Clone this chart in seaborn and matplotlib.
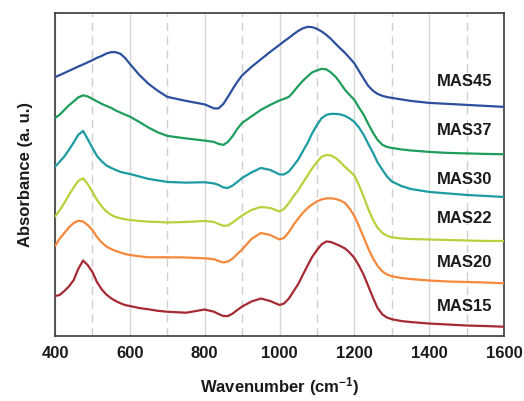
import numpy as np
import pandas as pd
import seaborn as sns
import matplotlib
matplotlib.use("Agg")
import matplotlib.pyplot as plt
from matplotlib.ticker import MultipleLocator, NullLocator

# FTIR absorbance spectra, vertically stacked (arbitrary units)
wavenumber = [400, 412, 425, 437, 450, 462, 475, 487, 500, 512, 525, 537, 550, 562,
              575, 587, 600, 625, 650, 675, 700, 750, 800, 825, 837, 850, 862, 875,
              887, 900, 925, 950, 975, 1000, 1012, 1025, 1037, 1050, 1062, 1075, 1087,
              1100, 1112, 1125, 1137, 1150, 1162, 1175, 1187, 1200, 1212, 1225, 1237,
              1250, 1262, 1275, 1287, 1300, 1325, 1350, 1400, 1450, 1500, 1550, 1600]

mas45 = [258.7, 260.7, 262.9, 265, 267.2, 269.3, 271.4, 273.5, 275.7, 278, 280, 282.3,
         283.7, 283.7, 282, 278, 272, 261, 252, 245, 239, 235, 231.5, 227.5, 227.5, 232,
         239, 247, 254, 260.5, 269, 276.5, 284, 291, 294.5, 298, 301.5, 305, 307.5, 309,
         308.7, 307, 304.5, 301, 297, 292, 287.5, 283, 278, 272.5, 265, 257, 250, 245,
         242, 240, 238.8, 238, 236.5, 235, 233, 232, 231, 230, 229]
mas37 = [218, 221, 226, 230.5, 234.5, 238.5, 240.5, 239.5, 237, 234.5, 232, 230, 228,
         225.5, 223.3, 221.3, 219.3, 214, 208.3, 203.5, 200, 197.5, 195.3, 194, 192, 191,
         194, 200, 207, 213, 219.5, 226, 231, 235.5, 237, 239, 244, 250, 255, 259.5,
         263.5, 265.5, 267, 266.5, 263.5, 259, 253, 246, 241, 236, 228.5, 221, 212, 203,
         196, 191, 189, 188, 186.5, 185.5, 184, 183, 182.5, 182, 181.7]
mas30 = [169.3, 174, 179.5, 186, 193.5, 201, 205, 197, 188, 180, 174.5, 170.5, 168, 166,
         164, 163, 162, 159.5, 157, 155.5, 154, 153.3, 153.7, 152.5, 151, 148.5, 148,
         150.5, 154, 158, 163.5, 168, 166, 161.5, 161.5, 164.5, 170, 176.5, 184.5, 193,
         202.5, 211, 217.5, 221, 222, 222, 221.5, 220, 217.5, 214, 208.5, 201, 192, 183,
         173.5, 166, 159.5, 154.5, 150, 147, 144, 142.5, 141, 140, 139]
mas22 = [119.3, 125.5, 133, 141, 148.5, 155, 157.7, 152, 144, 136, 129.5, 124.5, 121,
         119, 117.7, 116.7, 116, 115, 114.3, 114, 113.5, 114, 115, 114, 112, 110.2, 110.5,
         113.5, 117, 120.5, 126, 129, 128, 124.5, 127, 133, 139.5, 146, 153, 160.5,
         167.5, 174, 179, 181, 180.5, 178, 174, 169, 165, 160.5, 151, 139, 127, 116, 108,
         103, 100.2, 98.7, 97.5, 97, 96.5, 96, 95.5, 95, 95]
mas20 = [90, 97, 103, 108.5, 113, 115.2, 114.5, 111, 106, 99, 93.5, 89.5, 87, 85, 83.5,
         82, 81, 79.7, 78.7, 78.7, 78.7, 78.5, 77.7, 76.8, 75, 73.5, 74.5, 77.5, 82, 86.5,
         97, 103, 101, 96.5, 98, 104, 111, 117.5, 123, 128, 131.5, 134.5, 136.5, 137.5,
         137.7, 137, 135.5, 133, 127.5, 120, 110, 98.5, 87.5, 77.5, 70, 64.5, 61.5, 59.7,
         58, 57, 55.5, 54.5, 54, 53.5, 52.7]
mas15 = [40, 41, 45, 49.5, 56, 67, 75.5, 71, 64, 54, 46.5, 41.5, 37.7, 35, 32.7, 31, 30,
         28, 26.7, 25.2, 24.3, 23.3, 26.5, 24.3, 22, 20, 20, 22.5, 26, 29.5, 34.5, 37.5,
         35, 31, 32.5, 37.5, 44.5, 52, 61, 70.5, 79, 86, 91.5, 94.5, 94, 92, 90, 87.5,
         83.5, 78, 70.5, 61, 50, 38, 28, 21.5, 18.5, 16.8, 15, 14, 12.5, 11.5, 10.5, 10,
         9.3]

samples = ["MAS45", "MAS37", "MAS30", "MAS22", "MAS20", "MAS15"]
series = [mas45, mas37, mas30, mas22, mas20, mas15]
colors = ["#2c4f9e", "#1f9d5c", "#1c9ba2", "#b9d13c", "#f6883c", "#a52a34"]
label_y = [254, 205, 156, 117, 73, 30]

df = pd.concat(
    [pd.DataFrame({"wavenumber": wavenumber, "absorbance": vals, "sample": name})
     for name, vals in zip(samples, series)],
    ignore_index=True,
)

sns.set_style("white")
plt.rcParams["font.family"] = ["Liberation Sans", "DejaVu Sans"]
plt.rcParams["mathtext.fontset"] = "custom"
plt.rcParams["mathtext.rm"] = "Liberation Sans"
plt.rcParams["mathtext.bf"] = "Liberation Sans:bold"

fig = plt.figure(figsize=(5.24, 4.01), dpi=100)
ax = fig.add_axes([0.105, 0.162, 0.857, 0.806])

sns.lineplot(data=df, x="wavenumber", y="absorbance", hue="sample",
             palette=dict(zip(samples, colors)), linewidth=1.6, legend=False,
             ax=ax, zorder=3)

for name, y, c in zip(samples, label_y, colors):
    ax.text(1568, y, name, ha="right", va="center", fontsize=12,
            fontweight="bold", color="#1a1a1a", zorder=4)

ax.set_xlim(400, 1600)
ax.set_ylim(0, 323)
ax.xaxis.set_major_locator(MultipleLocator(200))
ax.xaxis.set_minor_locator(MultipleLocator(100))
ax.yaxis.set_major_locator(NullLocator())

ax.grid(which="major", axis="x", color="#d6d6d6", linewidth=1.0, linestyle="-", zorder=0)
ax.grid(which="minor", axis="x", color="#cfcfcf", linewidth=1.0,
        linestyle=(0, (6, 4)), zorder=0)
ax.set_axisbelow(True)

for sp in ax.spines.values():
    sp.set_color("#3a3a3a")
    sp.set_linewidth(1.2)

ax.tick_params(axis="x", which="major", direction="inout", length=7, width=1.1,
               color="#3a3a3a", labelsize=12, pad=4)
ax.tick_params(axis="x", which="minor", direction="in", length=4, width=1.0,
               color="#3a3a3a")
for lab in ax.get_xticklabels():
    lab.set_fontweight("bold")
    lab.set_color("#1a1a1a")

ax.set_xlabel("Wavenumber (cm$\\mathbf{^{-1}}$)", fontsize=12, fontweight="bold",
              color="#1a1a1a", labelpad=10)
ax.set_ylabel("Absorbance (a. u.)", fontsize=12, fontweight="bold",
              color="#1a1a1a", labelpad=16)

fig.savefig("out.png", dpi=100)
